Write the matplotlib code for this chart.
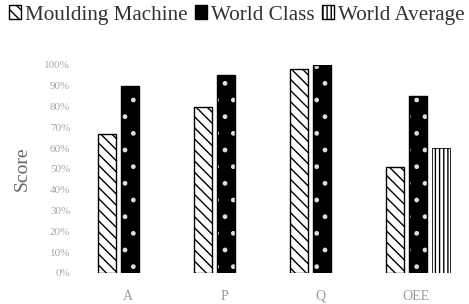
import matplotlib
matplotlib.use("Agg")
import matplotlib.pyplot as plt
import numpy as np
from matplotlib.patches import Patch

categories = ["A", "P", "Q", "OEE"]
moulding = [0.67, 0.80, 0.98, 0.51]
world_class = [0.90, 0.95, 0.999, 0.85]
world_average = [None, None, None, 0.60]
yticks = [0, 0.1, 0.2, 0.3, 0.4, 0.5, 0.6, 0.7, 0.8, 0.9, 1.0]
ytick_labels = ["0%", "10%", "20%", "30%", "40%", "50%", "60%", "70%", "80%", "90%", "100%"]
series_names = ["Moulding Machine", "World Class", "World Average"]

plt.rcParams['font.family'] = ['Liberation Serif', 'DejaVu Serif']
plt.rcParams['hatch.linewidth'] = 1.0

W, H = 469, 304
fig = plt.figure(figsize=(W / 100, H / 100), dpi=100)
ax = fig.add_axes([80 / W, (H - 273) / H, (464 - 80) / W, (273 - 65) / H])

x = np.arange(len(categories))
slot = 0.24
bw = 0.19

# Moulding machine: white with diagonal hatch
ax.bar(x - slot + 0.02, moulding, bw, facecolor="white", edgecolor="black",
       hatch="\\\\\\", linewidth=1.0)
# World class: black with white dots
ax.bar(x + 0.02, world_class, bw, facecolor="black", edgecolor="#dddddd",
       hatch=".", linewidth=0)
ax.bar(x + 0.02, world_class, bw, facecolor="none", edgecolor="black", linewidth=1.0)
# World average: vertical lines
wa_x = [xi + slot + 0.02 for xi, v in zip(x, world_average) if v is not None]
wa_v = [v for v in world_average if v is not None]
ax.bar(wa_x, wa_v, bw, facecolor="white", edgecolor="black",
       hatch="||||", linewidth=0.6)

ax.set_xlim(-0.5, 3.5)
ax.set_ylim(0, 1.0)
ax.set_yticks(yticks)
ax.set_yticklabels(ytick_labels, fontsize=8, color="#a8a8a8")
ax.set_xticks(x)
ax.set_xticklabels(categories, fontsize=10, color="#999999")
ax.tick_params(axis="y", length=0, pad=7)
ax.tick_params(axis="x", length=0, pad=12)
for s in ax.spines.values():
    s.set_visible(False)
ax.set_ylabel("Score", fontsize=14, color="#666666", labelpad=10)

handles = [
    Patch(facecolor="white", edgecolor="black", hatch="\\\\\\", label=series_names[0]),
    Patch(facecolor="black", edgecolor="black", label=series_names[1]),
    Patch(facecolor="white", edgecolor="black", hatch="||||", label=series_names[2]),
]
fig.legend(handles=handles, loc="center", bbox_to_anchor=(0.505, 1 - 15 / H),
           ncol=3, frameon=False, fontsize=15.2, handlelength=0.55, handleheight=0.6,
           handletextpad=0.2, columnspacing=0.35, labelcolor="#333333",
           borderpad=0, borderaxespad=0)

fig.savefig("out.png", dpi=100)
